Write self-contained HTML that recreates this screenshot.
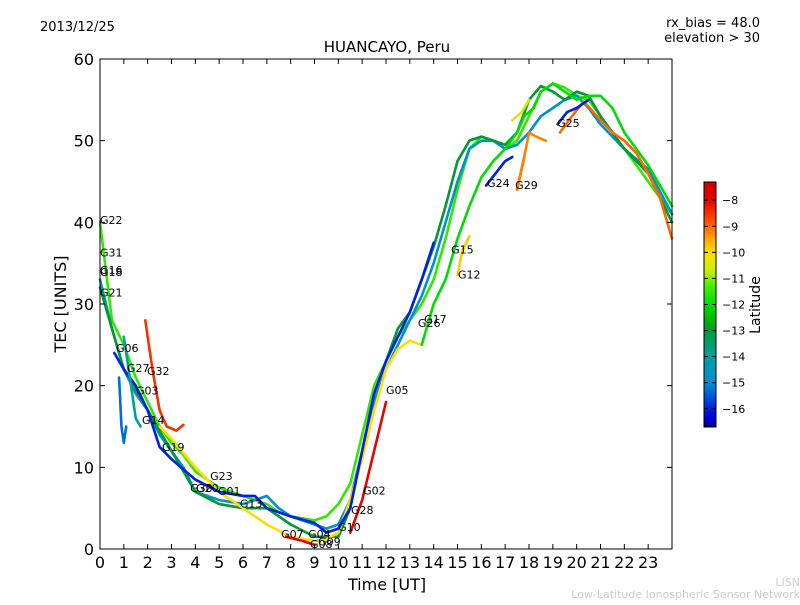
<!DOCTYPE html>
<html><head><meta charset="utf-8"><style>
body{margin:0;background:#fff;width:800px;height:600px;overflow:hidden}
svg{font-family:"DejaVu Sans","Liberation Sans",sans-serif}
</style></head><body>
<svg id="chart" width="800" height="600" xmlns="http://www.w3.org/2000/svg">
<defs>
<linearGradient id="jet" x1="0" y1="1" x2="0" y2="0"></linearGradient>
</defs>
<text x="40" y="31" font-size="13">2013/12/25</text>
<text x="760" y="27" font-size="13" text-anchor="end">rx_bias = 48.0</text>
<text x="760" y="42" font-size="13" text-anchor="end">elevation &gt; 30</text>
<text x="387" y="52" font-size="15" text-anchor="middle">HUANCAYO, Peru</text>
<text x="387" y="590" font-size="16" text-anchor="middle">Time [UT]</text>
<text x="66" y="304" font-size="16" text-anchor="middle" transform="rotate(-90 66 304)">TEC [UNITS]</text>
<text x="800" y="586" font-size="11" fill="#cccccc" text-anchor="end">LISN</text>
<text x="800" y="598" font-size="11" fill="#cccccc" text-anchor="end">Low-Latitude Ionospheric Sensor Network</text>
<g id="plot"></g>
<rect x="100" y="59" width="572" height="490" fill="none" stroke="#000" stroke-width="1"/>
<g id="axes"></g>
<rect x="704" y="182" width="12" height="245" fill="url(#jet)" stroke="#000" stroke-width="1"/>
<g id="cbar"></g>
<text x="760" y="305" font-size="14" text-anchor="middle" transform="rotate(-90 760 305)">Latitude</text>
</svg>
<script>
const xTicks=[0,1,2,3,4,5,6,7,8,9,10,11,12,13,14,15,16,17,18,19,20,21,22,23];
const yTicks=[0,10,20,30,40,50,60];
const cbTicks=[-8,-9,-10,-11,-12,-13,-14,-15,-16];
const trackLats=[-11.5,-15,-13,-10,-8,-12,-16,-8,-8,-9,-15.3,-14,-8.5,-16,-16,-9.8,-9.2,-10.5];
const track0=[[0,40],[0.5,28],[1,25],[1.5,21],[2,18],[2.5,15],[3,13],[3.5,11.5],[4,9.5],[5,7.5],[6,6.5],[7,5.5],[7.5,4.5],[8,4],[9,3.5],[9.5,4],[10,5.5],[10.5,8],[11,14],[11.5,20],[12,23],[12.5,26],[13,28],[13.5,30],[14,33],[14.5,38],[15,44],[15.5,49],[16,50.5],[16.5,50],[17,49],[17.5,50],[18,53],[18.5,56],[19,57],[19.5,56.5],[20,55.5],[20.5,55],[21,53],[21.5,51],[22,49],[22.5,47],[23,45],[23.5,43],[24,41]];
const track1=[[0,33],[0.5,27],[1,22],[1.5,19],[2,17],[2.5,14],[3,12],[3.5,10],[4,7],[5,6],[6,5.5],[7,6.5],[7.5,5],[8,4],[9,3],[9.5,2.5],[10,3],[10.5,6],[11,12],[11.5,18],[12,22],[12.5,25],[13,28],[13.5,31],[14,35],[14.5,40],[15,45],[15.5,49],[16,50],[16.5,50],[17,49],[17.5,49.5],[18,51],[18.5,53],[19,54],[19.5,55],[20,55.5],[20.5,54],[21,52],[22,49],[23,46.5],[24,41]];
const track2=[[0,32],[0.5,27],[1,22],[2,17],[3,12],[4,7],[5,5.5],[6,5],[7,5],[8,3],[9,1.5],[10,1.5],[10.5,5],[11,12],[11.5,19],[12,23],[12.5,27],[13,29],[13.5,33],[14,37],[14.5,42],[15,47.5],[15.5,50],[16,50.5],[17,49.5],[17.5,51],[18,55],[18.5,56.7],[19,56],[19.5,55],[20,56],[20.5,55.5],[21,53],[22,49],[23,46],[24,40]];
const track3=[[2.5,15],[3,13.5],[4,10],[5,7],[6,5],[7,3],[8,1.5],[9,1],[9.5,1.2],[10,2],[10.5,6],[11,11],[11.5,17],[12,22],[12.5,24.5],[13,25.5],[13.5,25]];
const track4=[[7.8,1.5],[8.5,1],[9,0.5]];
const track5=[[13.5,25],[14,30],[14.5,33],[15,38],[15.5,42],[16,45.5],[16.5,47.5],[17,49],[17.5,51],[17.8,53],[18.2,54],[18.5,56],[19,57],[19.5,56],[20,55],[20.5,55.5],[21,55.5],[21.5,54],[22,51],[23,47],[24,42]];
const track6=[[0.6,24],[1,22],[1.5,20],[2,17],[2.5,12.5],[3,11],[4,8.5],[5,7],[6,6.5],[6.5,6.5],[7,5],[8,4],[9,3.2],[9.5,2],[10,2.5],[10.5,5],[11,12],[11.5,19],[12,23],[12.5,26],[13,29],[13.5,33],[14,37.5]];
const track7=[[10.5,2],[11,6],[11.5,12],[12,18]];
const track8=[[17.5,44],[17.8,48]];
const track9=[[19.3,51],[19.8,53],[20.3,54.8],[20.7,53.5],[21,52.5],[21.5,51],[22,50],[22.5,48.5],[23,46],[23.5,43],[24,38]];
const track10=[[0.8,21],[0.9,15],[1,13],[1.1,15]];
const track11=[[1,26],[1.3,20],[1.5,16],[1.7,15]];
const track12=[[1.9,28],[2.2,22],[2.5,17],[2.8,15],[3.2,14.5],[3.5,15.2]];
const track13=[[16.2,44.5],[16.6,46],[17,47.5],[17.3,48]];
const track14=[[19.2,52],[19.6,53.5],[20,54],[20.5,55]];
const track15=[[15,33.5],[15.2,36.5],[15.5,38.3]];
const track16=[[17.5,44],[17.8,48],[18,51],[18.3,50.5],[18.7,50]];
const track17=[[17.3,52.5],[17.7,53.5],[18,55]];
const labelNames=["G22","G31","G16","G18","G21","G06","G27","G32","G03","G14","G19","G23","G30","G20","G01","G13","G07","G04","G08","G09","G10","G02","G28","G05","G17","G26","G15","G12","G24","G29","G25"];
const labelTimes=[0,0,0,0,0,0.67,1.13,1.97,1.51,1.76,2.6,4.62,3.78,4.03,4.95,5.87,7.6,8.73,8.81,9.15,9.99,11.04,10.53,12.0,13.6,13.34,14.73,15.02,16.24,17.42,19.18];
const labelTecs=[39.8,35.8,33.7,33.4,30.9,24.1,21.7,21.3,18.9,15.3,12.0,8.45,7.0,7.0,6.6,5.1,1.35,1.35,0.1,0.4,2.2,6.7,4.3,19.0,27.7,27.2,36.2,33.1,44.3,44.1,51.7];
const tracks=[track0,track1,track2,track3,track4,track5,track6,track7,track8,track9,track10,track11,track12,track13,track14,track15,track16,track17];

const NS="http://www.w3.org/2000/svg";
const X0=100,X1=672,Y0=549,Y1=59;
const LATMAX=-7.3,LATMIN=-16.7;
const cmap=[[-16.7,[0,0,138]],[-16.3,[0,0,221]],[-15.7,[0,64,224]],[-15,[0,144,208]],[-14,[0,160,160]],[-13,[0,153,51]],[-12.5,[0,187,0]],[-12,[0,221,0]],[-11.3,[68,238,0]],[-10.7,[204,238,0]],[-10,[255,221,0]],[-9.5,[255,170,0]],[-9,[255,102,0]],[-8,[232,0,0]],[-7.3,[200,0,0]]];
function xs(t){return X0+(t/24)*(X1-X0);}
function ys(v){return Y0-(v/60)*(Y0-Y1);}
function cy(lat){return 182+((LATMAX-lat)/(LATMAX-LATMIN))*245;}
function jet(lat){
 lat=Math.max(LATMIN,Math.min(LATMAX,lat));
 for(let i=0;i<cmap.length-1;i++){const a=cmap[i],b=cmap[i+1];
  if(lat>=a[0]&&lat<=b[0]){const f=(lat-a[0])/(b[0]-a[0]);
   const c=a[1].map((v,k)=>Math.round(v+(b[1][k]-v)*f));return `rgb(${c.join(',')})`;}}
 return 'rgb(0,0,0)';}
function mk(tag,attrs,parent){const e=document.createElementNS(NS,tag);for(const k in attrs)e.setAttribute(k,attrs[k]);parent.appendChild(e);return e;}
const grad=document.getElementById('jet');
cmap.forEach(s=>{mk('stop',{offset:(s[0]-LATMIN)/(LATMAX-LATMIN),'stop-color':jet(s[0])},grad);});
const plot=document.getElementById('plot'),axes=document.getElementById('axes'),cbar=document.getElementById('cbar');
tracks.forEach((tr,i)=>{
 const p=mk('polyline',{points:tr.map(d=>xs(d[0])+','+ys(d[1])).join(' '),fill:'none',stroke:jet(trackLats[i]),'stroke-width':2.6,'stroke-linejoin':'round','stroke-linecap':'round'},plot);
 
 
});
labelNames.forEach((n,i)=>{
 const t=mk('text',{x:xs(labelTimes[i]),y:ys(labelTecs[i]),'font-size':11},plot);t.textContent=n;
 
 
});
xTicks.forEach(v=>{
 const x=xs(v);
 const a=mk('line',{x1:x,x2:x,y1:Y0,y2:Y0-5,stroke:'#000'},axes);
 
 
 mk('line',{x1:x,x2:x,y1:Y1,y2:Y1+5,stroke:'#000'},axes);
 const t=mk('text',{x:x,y:Y0+19,'font-size':16,'text-anchor':'middle'},axes);t.textContent=v;
 
 
});
yTicks.forEach(v=>{
 const y=ys(v);
 const a=mk('line',{x1:X0,x2:X0+5,y1:y,y2:y,stroke:'#000'},axes);
 
 
 mk('line',{x1:X1,x2:X1-5,y1:y,y2:y,stroke:'#000'},axes);
 const t=mk('text',{x:X0-6,y:y+6,'font-size':16,'text-anchor':'end'},axes);t.textContent=v;
 
 
});
cbTicks.forEach(v=>{
 const y=cy(v);
 mk('line',{x1:704,x2:708,y1:y,y2:y,stroke:'#000'},cbar);
 mk('line',{x1:716,x2:712,y1:y,y2:y,stroke:'#000'},cbar);
 const t=mk('text',{x:722,y:y+4,'font-size':11},cbar);t.textContent='\u2212'+(-v);
 
 
});
</script>
</body></html>
